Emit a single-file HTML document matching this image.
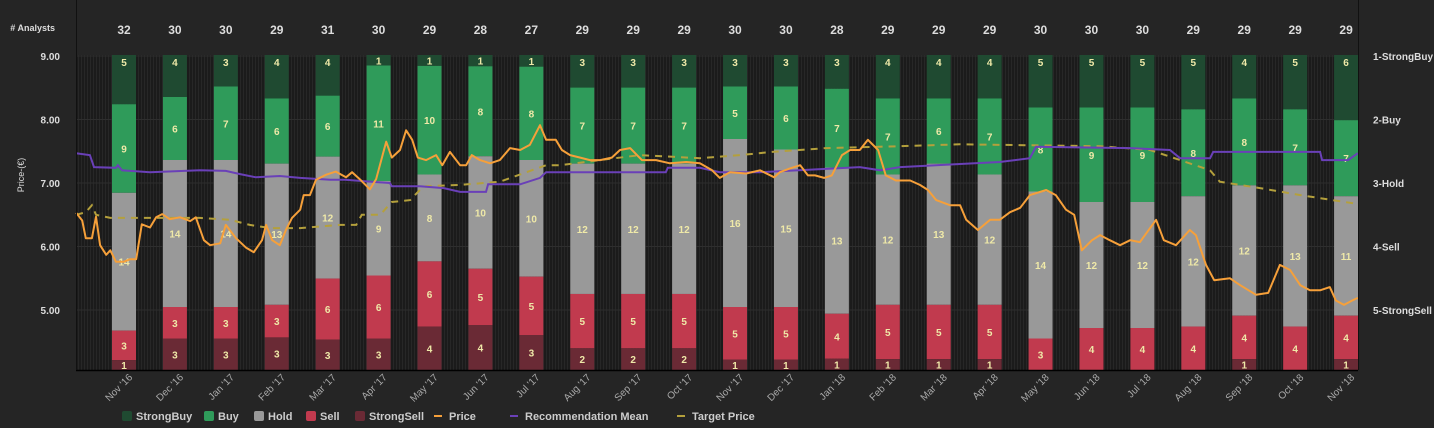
<!DOCTYPE html>
<html><head><meta charset="utf-8"><style>
html,body{margin:0;padding:0;background:#252525;}
svg{display:block;font-family:"Liberation Sans",sans-serif;}
</style></head><body>
<svg id="chart" width="1434" height="428" viewBox="0 0 1434 428">
<defs>
<pattern id="stripes" width="3" height="10" patternUnits="userSpaceOnUse">
<rect width="3" height="10" fill="#1b1b1b"/><rect width="1" height="10" fill="#272727"/>
</pattern>
</defs>
<rect width="1434" height="428" fill="#252525"/>
<rect x="76" y="55" width="1282" height="315" fill="url(#stripes)"/>
<g id="grid"></g>
<g id="bars"></g>
<g id="lines"></g>
<line x1="76" y1="370.5" x2="1358" y2="370.5" stroke="#000" stroke-width="1.5"/>
<line x1="76.5" y1="0" x2="76.5" y2="370" stroke="#111"/>
<line x1="1358.5" y1="0" x2="1358.5" y2="370" stroke="#111"/>
<text x="55" y="31" fill="#ddd" font-size="9" font-weight="bold" text-anchor="end"># Analysts</text>
<text transform="translate(24,175) rotate(-90)" fill="#ddd" font-size="9" text-anchor="middle">Price-(€)</text>
<g id="axes"></g>
<g id="legend"></g>
</svg>
<script>
const months = ["Nov '16","Dec '16","Jan '17","Feb '17","Mar '17","Apr '17","May '17","Jun '17","Jul '17","Aug '17","Sep '17","Oct '17","Nov '17","Dec '17","Jan '18","Feb '18","Mar '18","Apr '18","May '18","Jun '18","Jul '18","Aug '18","Sep '18","Oct '18","Nov '18"];
const strongBuy = [5,4,3,4,4,1,1,1,1,3,3,3,3,3,3,4,4,4,5,5,5,5,4,5,6];
const buy       = [9,6,7,6,6,11,10,8,8,7,7,7,5,6,7,7,6,7,8,9,9,8,8,7,7];
const hold      = [14,14,14,13,12,9,8,10,10,12,12,12,16,15,13,12,13,12,14,12,12,12,12,13,11];
const sell      = [3,3,3,3,6,6,6,5,5,5,5,5,5,5,4,5,5,5,3,4,4,4,4,4,4];
const strongSell= [1,3,3,3,3,3,4,4,3,2,2,2,1,1,1,1,1,1,0,0,0,0,1,0,1];
const priceTicks = [5,6,7,8,9];
const recTicks = ["1-StrongBuy","2-Buy","3-Hold","4-Sell","5-StrongSell"];
const priceT = [-0.94,-0.82,-0.75,-0.63,-0.55,-0.47,-0.35,-0.27,-0.16,0,0.12,0.24,0.35,0.51,0.63,0.75,0.9,1.1,1.3,1.41,1.57,1.69,1.89,2.0,2.2,2.4,2.55,2.71,2.79,2.91,3.06,3.18,3.3,3.46,3.53,3.65,3.77,3.97,4.16,4.36,4.48,4.63,4.83,4.95,5.15,5.26,5.42,5.54,5.66,5.77,5.93,6.13,6.25,6.4,6.6,6.72,6.83,6.99,7.19,7.38,7.58,7.78,7.97,8.17,8.29,8.48,8.6,8.76,8.96,9.15,9.35,9.58,9.74,9.94,10.17,10.45,10.72,11.04,11.31,11.55,11.7,11.9,12.22,12.49,12.77,12.88,13.08,13.28,13.43,13.57,13.75,13.9,14.1,14.26,14.45,14.61,14.81,14.96,15.16,15.44,15.63,15.79,15.95,16.22,16.42,16.54,16.77,17.01,17.2,17.4,17.6,17.79,18.11,18.3,18.5,18.66,18.81,19.01,19.17,19.36,19.56,19.76,19.95,20.27,20.42,20.66,20.93,21.05,21.25,21.41,21.72,21.92,22.23,22.47,22.7,22.9,23.1,23.29,23.49,23.68,23.8,23.96,24.12,24.23];
const priceV = [6.53,6.41,6.13,6.13,6.47,6.02,5.87,5.94,5.76,5.76,5.8,5.8,6.35,6.3,6.46,6.51,6.43,6.46,6.4,6.46,6.1,6.02,6.05,6.34,6.13,5.98,5.91,6.1,6.34,6.1,6.02,6.26,6.45,6.58,6.81,6.81,7.05,7.13,7.18,7.09,7.17,7.06,6.9,7.06,7.65,7.4,7.52,7.83,7.68,7.4,7.36,7.44,7.28,7.49,7.28,7.28,7.44,7.36,7.31,7.36,7.55,7.52,7.6,7.91,7.68,7.68,7.52,7.44,7.4,7.36,7.36,7.4,7.52,7.55,7.36,7.36,7.31,7.33,7.31,7.2,7.08,7.17,7.15,7.2,7.09,7.17,7.23,7.28,7.12,7.12,7.08,7.12,7.44,7.52,7.52,7.68,7.52,7.12,7.04,7.04,6.97,6.89,6.73,6.65,6.65,6.42,6.26,6.42,6.42,6.54,6.61,6.81,6.89,6.81,6.58,6.5,5.94,6.1,6.18,6.1,6.02,6.1,6.07,6.42,6.1,6.02,6.26,6.18,5.71,5.47,5.5,5.39,5.24,5.27,5.71,5.63,5.39,5.31,5.31,5.36,5.15,5.08,5.15,5.19];
const recT = [-0.94,-0.67,-0.59,-0.16,-0.12,-0.04,0.51,1.49,2.0,2.28,2.59,3.06,3.46,4.05,4.34,5.22,5.26,5.81,6.28,6.6,7.11,7.15,7.78,8.17,8.29,10.64,10.68,11.31,11.7,12.49,14.45,14.85,15.24,16.42,17.2,17.79,17.91,19.76,20.54,20.74,21.33,21.39,23.49,23.53,24.04,24.23];
const recV = [2.53,2.56,2.75,2.76,2.72,2.8,2.83,2.8,2.81,2.86,2.91,2.89,2.92,2.95,2.95,3.0,3.05,3.05,3.08,3.14,3.14,3.02,3.02,2.92,2.83,2.83,2.76,2.76,2.83,2.83,2.75,2.8,2.75,2.7,2.67,2.61,2.43,2.45,2.48,2.61,2.61,2.51,2.51,2.64,2.64,2.53];
const targetT = [-0.94,-0.75,-0.63,-0.55,-0.27,1.49,2.08,2.47,2.87,3.46,4.24,4.56,4.67,5.03,5.26,5.62,5.81,5.93,6.6,7.38,8.29,8.56,9.35,10.13,11.31,12.1,12.73,13.79,15.24,16.42,19.17,20.15,20.74,21.33,21.52,22.31,23.1,24.23];
const targetV = [6.5,6.54,6.65,6.5,6.45,6.45,6.42,6.34,6.29,6.29,6.34,6.34,6.5,6.5,6.7,6.73,6.89,6.95,6.97,7.02,7.28,7.28,7.36,7.44,7.39,7.44,7.49,7.55,7.58,7.61,7.58,7.52,7.36,7.2,7.02,6.92,6.81,6.67];

const NS="http://www.w3.org/2000/svg";
const X0=124, DX=50.92, TOP=55, BOT=370, BW=24;
function xS(m){return X0+m*DX;}
function yP(p){return 56+(9-p)*63.5;}
function yR(r){return yP(10-r);}
function mk(tag,attrs,parent){const e=document.createElementNS(NS,tag);for(const k in attrs)e.setAttribute(k,attrs[k]);parent.appendChild(e);return e;}
const gGrid=document.getElementById('grid'),gBars=document.getElementById('bars'),gLines=document.getElementById('lines'),gAx=document.getElementById('axes'),gLeg=document.getElementById('legend');

priceTicks.forEach(p=>{
  const l=mk('line',{x1:76,x2:1358,y1:yP(p),y2:yP(p),stroke:'#2e2e2e'},gGrid);
  
  
  const t=mk('text',{x:60,y:yP(p)+4,fill:'#ddd','font-size':10,'font-weight':'bold','text-anchor':'end'},gAx);
  t.textContent=p.toFixed(2);
  
  
});
recTicks.forEach((s,i)=>{
  const t=mk('text',{x:1373,y:yR(i+1)+4,fill:'#ddd','font-size':10,'font-weight':'bold'},gAx);
  t.textContent=s;
  
  
});

const series=[[strongBuy,'#1f4a31','strongbuy'],[buy,'#2f9b5a','buy'],[hold,'#999999','hold'],[sell,'#c13a4e','sell'],[strongSell,'#6a2a35','strongsell']];
months.forEach((m,i)=>{
  const cx=xS(i);
  const total=series.reduce((a,s)=>a+s[0][i],0);
  let y=TOP;
  series.forEach(([arr,col,nm],k)=>{
    const v=arr[i]; if(!v)return;
    const h=v/total*(BOT-TOP);
    const r=mk('rect',{x:cx-BW/2,y:y,width:BW,height:h,fill:col},gBars);
    
    
    let ty=y+h/2+4;
    if(k===0) ty=Math.min(ty,y+11);
    const t=mk('text',{x:cx,y:ty,fill:'#efe9a8','font-size':10,'font-weight':'bold','text-anchor':'middle'},gBars);
    t.textContent=v;
    
    
    y+=h;
  });
  const c=mk('text',{x:cx,y:34,fill:'#ddd','font-size':12,'font-weight':'bold','text-anchor':'middle'},gAx);
  c.textContent=total;
  
  
  const xl=mk('text',{transform:`translate(${cx+9},378) rotate(-45)`,fill:'#aaa','font-size':10,'text-anchor':'end'},gAx);
  xl.textContent=m;
  
  
});

function path(T,V,yf){return T.map((t,i)=>(i?'L':'M')+xS(t).toFixed(1)+','+yf(V[i]).toFixed(1)).join(' ');}
const tp=mk('path',{d:path(targetT,targetV,yP),fill:'none',stroke:'#b4a03c','stroke-width':2,'stroke-dasharray':'7,6'},gLines);


const rp=mk('path',{d:path(recT,recV,yR),fill:'none',stroke:'#6a40b8','stroke-width':2},gLines);


const pp=mk('path',{d:path(priceT,priceV,yP),fill:'none',stroke:'#f6a03a','stroke-width':2,'stroke-linejoin':'round'},gLines);



const legItems=[['StrongBuy','#1f4a31',122,'box'],['Buy','#2f9b5a',204,'box'],['Hold','#999',254,'box'],['Sell','#c13a4e',306,'box'],['StrongSell','#6a2a35',355,'box'],['Price','#f6a03a',434,'line'],['Recommendation Mean','#6a40b8',510,'line'],['Target Price','#b4a03c',677,'line']];
legItems.forEach(([lab,col,x,kind])=>{
  const g=mk('g',{},gLeg);
  
  
  if(kind==='box') mk('rect',{x:x,y:411,width:10,height:10,rx:2,fill:col},g);
  else mk('line',{x1:x,x2:x+8,y1:416,y2:416,stroke:col,'stroke-width':2},g);
  const t=mk('text',{x:x+(kind==='box'?14:15),y:420,fill:'#ccc','font-size':11,'font-weight':'bold'},g);
  t.textContent=lab;
});
</script>
</body></html>
